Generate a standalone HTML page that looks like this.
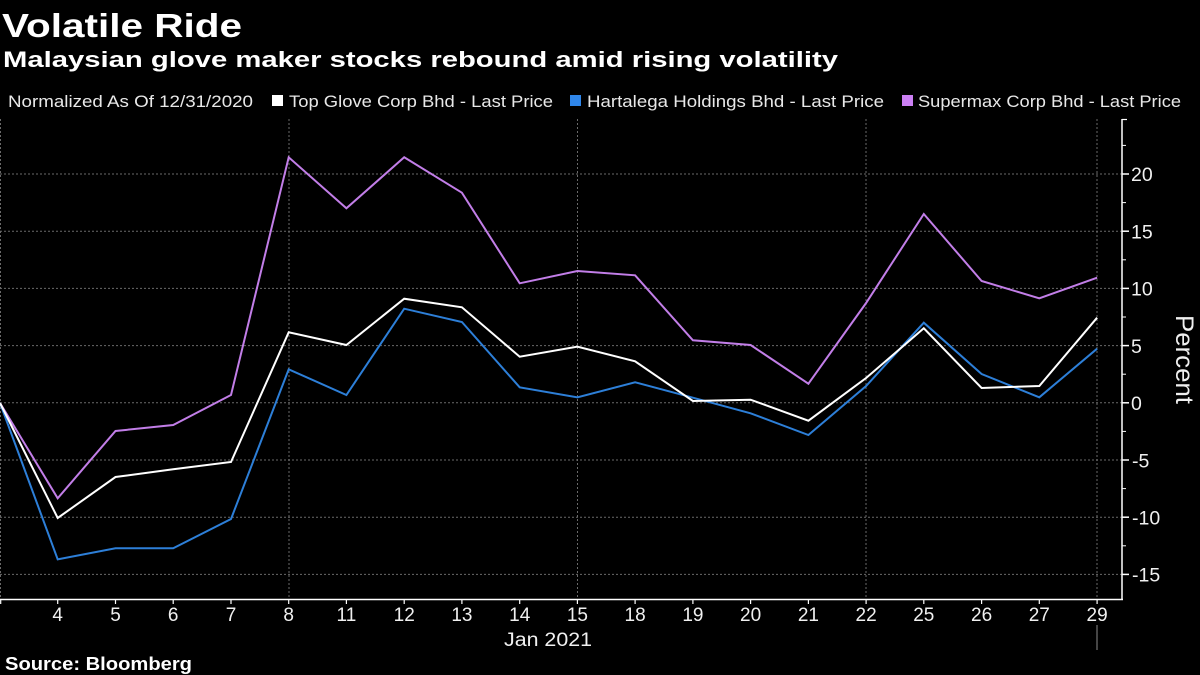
<!DOCTYPE html>
<html>
<head>
<meta charset="utf-8">
<style>
  html, body { margin:0; padding:0; background:#000; }
  body { width:1200px; height:675px; overflow:hidden; }
  svg { display:block; }
  text { font-family: "Liberation Sans", "DejaVu Sans", sans-serif; }
</style>
</head>
<body>
<svg width="1200" height="675" viewBox="0 0 1200 675" xmlns="http://www.w3.org/2000/svg">
  <rect x="0" y="0" width="1200" height="675" fill="#000"/>

  <!-- Titles -->
  <text x="2" y="37" font-size="33" font-weight="bold" fill="#ffffff" textLength="240" lengthAdjust="spacingAndGlyphs">Volatile Ride</text>
  <text x="3" y="67" font-size="22" font-weight="bold" fill="#ffffff" textLength="835" lengthAdjust="spacingAndGlyphs">Malaysian glove maker stocks rebound amid rising volatility</text>

  <!-- Legend -->
  <text x="8" y="107" font-size="17" fill="#e8e8e8" textLength="245" lengthAdjust="spacingAndGlyphs">Normalized As Of 12/31/2020</text>
  <rect x="272" y="95" width="11" height="11" fill="#ffffff"/>
  <text x="289" y="107" font-size="17" fill="#e8e8e8" textLength="264" lengthAdjust="spacingAndGlyphs">Top Glove Corp Bhd - Last Price</text>
  <rect x="570" y="95" width="11" height="11" fill="#2f86ea"/>
  <text x="587" y="107" font-size="17" fill="#e8e8e8" textLength="297" lengthAdjust="spacingAndGlyphs">Hartalega Holdings Bhd - Last Price</text>
  <rect x="902" y="95" width="11" height="11" fill="#cc80f4"/>
  <text x="918" y="107" font-size="17" fill="#e8e8e8" textLength="263" lengthAdjust="spacingAndGlyphs">Supermax Corp Bhd - Last Price</text>

  <!-- Horizontal gridlines -->
  <g stroke="#6a6a6a" stroke-width="1" stroke-dasharray="2 2">
    <line x1="0" y1="174" x2="1122" y2="174"/>
    <line x1="0" y1="231.2" x2="1122" y2="231.2"/>
    <line x1="0" y1="288.4" x2="1122" y2="288.4"/>
    <line x1="0" y1="345.6" x2="1122" y2="345.6"/>
    <line x1="0" y1="402.8" x2="1122" y2="402.8"/>
    <line x1="0" y1="460" x2="1122" y2="460"/>
    <line x1="0" y1="517.2" x2="1122" y2="517.2"/>
    <line x1="0" y1="574.4" x2="1122" y2="574.4"/>
    <!-- vertical -->
    <line x1="0.5" y1="119" x2="0.5" y2="599"/>
    <line x1="289" y1="119" x2="289" y2="599"/>
    <line x1="577.5" y1="119" x2="577.5" y2="599"/>
    <line x1="866" y1="119" x2="866" y2="599"/>
    <line x1="1097" y1="119" x2="1097" y2="599"/>
  </g>

  <!-- Series -->
  <g fill="none" stroke-width="2" stroke-linejoin="miter">
    <polyline stroke="#c27ee8" points="0,403 57.7,498.3 115.5,431 173.2,425 231,395 288.7,157.3 346.4,208.3 404.2,157.3 461.9,192.7 519.7,283.3 577.4,271 635.1,275.3 692.9,340.3 750.6,345 808.4,383.7 866.1,303 923.8,214 981.6,281 1039.3,298.3 1097.1,277.7"/>
    <polyline stroke="#2d7fd8" points="0,403 57.7,559.3 115.5,548.3 173.2,548.3 231,519 288.7,369.3 346.4,395 404.2,308.7 461.9,322 519.7,387.3 577.4,397.3 635.1,382.3 692.9,397.7 750.6,413.3 808.4,435 866.1,386 923.8,322.7 981.6,374 1039.3,397.3 1097.1,348.7"/>
    <polyline stroke="#ffffff" points="0,403 57.7,518 115.5,477 173.2,469.3 231,462 288.7,332.3 346.4,345 404.2,298.7 461.9,307.3 519.7,356.7 577.4,346.7 635.1,361.3 692.9,401 750.6,399.7 808.4,420.7 866.1,378 923.8,328.3 981.6,388 1039.3,386 1097.1,317.7"/>
  </g>

  <!-- X axis -->
  <line x1="0" y1="599.5" x2="1123" y2="599.5" stroke="#ffffff" stroke-width="1.5"/>
  <g stroke="#ffffff" stroke-width="1.2">
    <line x1="0.7" y1="599" x2="0.7" y2="604"/>
    <line x1="57.7" y1="599" x2="57.7" y2="604"/>
    <line x1="115.5" y1="599" x2="115.5" y2="604"/>
    <line x1="173.2" y1="599" x2="173.2" y2="604"/>
    <line x1="231" y1="599" x2="231" y2="604"/>
    <line x1="288.7" y1="599" x2="288.7" y2="604"/>
    <line x1="346.4" y1="599" x2="346.4" y2="604"/>
    <line x1="404.2" y1="599" x2="404.2" y2="604"/>
    <line x1="461.9" y1="599" x2="461.9" y2="604"/>
    <line x1="519.7" y1="599" x2="519.7" y2="604"/>
    <line x1="577.4" y1="599" x2="577.4" y2="604"/>
    <line x1="635.1" y1="599" x2="635.1" y2="604"/>
    <line x1="692.9" y1="599" x2="692.9" y2="604"/>
    <line x1="750.6" y1="599" x2="750.6" y2="604"/>
    <line x1="808.4" y1="599" x2="808.4" y2="604"/>
    <line x1="866.1" y1="599" x2="866.1" y2="604"/>
    <line x1="923.8" y1="599" x2="923.8" y2="604"/>
    <line x1="981.6" y1="599" x2="981.6" y2="604"/>
    <line x1="1039.3" y1="599" x2="1039.3" y2="604"/>
    <line x1="1097.1" y1="599" x2="1097.1" y2="604"/>
  </g>
  <line x1="1097" y1="625" x2="1097" y2="650" stroke="#8a8a8a" stroke-width="1"/>

  <g font-size="19" fill="#f0f0f0" text-anchor="middle">
    <text x="57.7" y="621">4</text>
    <text x="115.5" y="621">5</text>
    <text x="173.2" y="621">6</text>
    <text x="231" y="621">7</text>
    <text x="288.7" y="621">8</text>
    <text x="346.4" y="621">11</text>
    <text x="404.2" y="621">12</text>
    <text x="461.9" y="621">13</text>
    <text x="519.7" y="621">14</text>
    <text x="577.4" y="621">15</text>
    <text x="635.1" y="621">18</text>
    <text x="692.9" y="621">19</text>
    <text x="750.6" y="621">20</text>
    <text x="808.4" y="621">21</text>
    <text x="866.1" y="621">22</text>
    <text x="923.8" y="621">25</text>
    <text x="981.6" y="621">26</text>
    <text x="1039.3" y="621">27</text>
    <text x="1097.1" y="621">29</text>
  </g>
  <text x="504" y="646" font-size="19" fill="#f0f0f0" textLength="88" lengthAdjust="spacingAndGlyphs">Jan 2021</text>

  <!-- Y axis -->
  <line x1="1122" y1="119" x2="1122" y2="600" stroke="#ffffff" stroke-width="1.5"/>
  <line x1="1122" y1="119.5" x2="1127" y2="119.5" stroke="#ffffff" stroke-width="1.2"/>
  <g stroke="#ffffff" stroke-width="1.5">
    <line x1="1122" y1="174" x2="1129" y2="174"/>
    <line x1="1122" y1="231.2" x2="1129" y2="231.2"/>
    <line x1="1122" y1="288.4" x2="1129" y2="288.4"/>
    <line x1="1122" y1="345.6" x2="1129" y2="345.6"/>
    <line x1="1122" y1="402.8" x2="1129" y2="402.8"/>
    <line x1="1122" y1="460" x2="1129" y2="460"/>
    <line x1="1122" y1="517.2" x2="1129" y2="517.2"/>
    <line x1="1122" y1="574.4" x2="1129" y2="574.4"/>
  </g>
  <g stroke="#ffffff" stroke-width="1">
    <line x1="1122" y1="145.4" x2="1126" y2="145.4"/>
    <line x1="1122" y1="202.6" x2="1126" y2="202.6"/>
    <line x1="1122" y1="259.8" x2="1126" y2="259.8"/>
    <line x1="1122" y1="317" x2="1126" y2="317"/>
    <line x1="1122" y1="374.2" x2="1126" y2="374.2"/>
    <line x1="1122" y1="431.4" x2="1126" y2="431.4"/>
    <line x1="1122" y1="488.6" x2="1126" y2="488.6"/>
    <line x1="1122" y1="545.8" x2="1126" y2="545.8"/>
  </g>
  <g font-size="19.5" fill="#f0f0f0">
    <text x="1131" y="181">20</text>
    <text x="1131" y="238.5">15</text>
    <text x="1131" y="295.7">10</text>
    <text x="1131" y="353">5</text>
    <text x="1131" y="410">0</text>
    <text x="1132" y="467.3">-5</text>
    <text x="1132" y="524.5">-10</text>
    <text x="1132" y="581.7">-15</text>
  </g>
  <text transform="translate(1176,315) rotate(90)" x="0" y="0" font-size="25" fill="#f0f0f0" textLength="89" lengthAdjust="spacingAndGlyphs">Percent</text>

  <!-- Source -->
  <text x="5" y="670" font-size="18" font-weight="bold" fill="#ffffff" textLength="187" lengthAdjust="spacingAndGlyphs">Source: Bloomberg</text>
</svg>
</body>
</html>
